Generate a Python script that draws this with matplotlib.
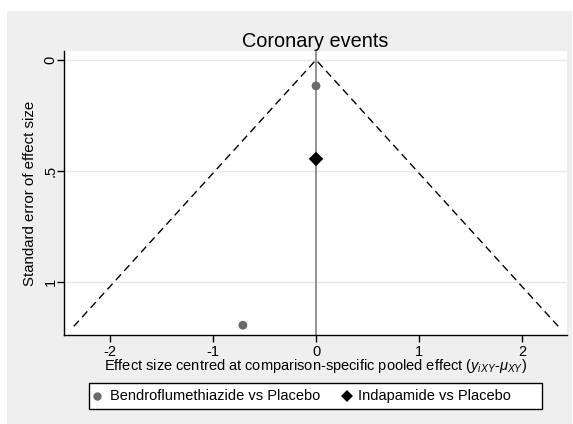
import matplotlib
matplotlib.use("Agg")
import matplotlib.pyplot as plt
from matplotlib.patches import Rectangle
from matplotlib.lines import Line2D
import numpy as np

plt.rcParams['font.family'] = ['Liberation Sans', 'DejaVu Sans']
plt.rcParams['mathtext.fontset'] = 'custom'
plt.rcParams['mathtext.rm'] = 'Liberation Sans'
plt.rcParams['mathtext.it'] = 'Liberation Sans:italic'

# Study-level centred effects and standard errors
comparisons = ["Bendroflumethiazide vs Placebo", "Indapamide vs Placebo"]
bendro_effect = [0.0, -0.71]
bendro_se = [0.117, 1.195]
indap_effect = [0.0]
indap_se = [0.446]

funnel_se_max = 1.2
z_crit = 1.96

title = "Coronary events"
x_ticks = [-2, -1, 0, 1, 2]
y_ticks = [0, 0.5, 1]
y_ticklabels = ["0", ".5", "1"]

W, H = 573, 424
fig = plt.figure(figsize=(W / 100, H / 100), dpi=100)
fig.patch.set_facecolor("white")
fig.patches.append(Rectangle((7 / W, 0), (572 - 7) / W, (H - 11) / H,
                             transform=fig.transFigure, facecolor="#efefef",
                             edgecolor="none", zorder=-10))

left, right, top, bottom = 64, 567, 51, 335
ax = fig.add_axes([left / W, 1 - bottom / H, (right - left) / W, (bottom - top) / H])
ax.set_facecolor("white")

ax.set_xlim(-2.447, 2.437)
ax.set_ylim(1.239, -0.04)

for yv in y_ticks:
    ax.axhline(yv, color="#e6e6e6", lw=1, zorder=0)

ax.axvline(0, color="#808080", lw=1.2, zorder=1)

se_line = np.array([funnel_se_max, 0.0, funnel_se_max])
x_line = np.array([-z_crit * funnel_se_max, 0.0, z_crit * funnel_se_max])
ax.plot(x_line, se_line, color="black", lw=1, ls=(0, (5.5, 3.5)), zorder=2)

ax.scatter(bendro_effect, bendro_se, s=40, marker="o", color="#6a6a6a",
           edgecolors="none", zorder=3)
ax.scatter(indap_effect, indap_se, s=55, marker="D", color="black",
           edgecolors="none", zorder=3)

ax.set_xticks(x_ticks)
ax.set_xticklabels([str(t) for t in x_ticks])
ax.set_yticks(y_ticks)
ax.set_yticklabels(y_ticklabels, rotation=90, va="center")
ax.tick_params(direction="out", length=5, width=1, labelsize=10.5)
ax.tick_params(axis="x", pad=2)
ax.tick_params(axis="y", pad=-0.5)
for s in ["top", "right"]:
    ax.spines[s].set_visible(False)
for s in ["left", "bottom"]:
    ax.spines[s].set_linewidth(1)

ax.set_title(title, fontsize=14.3, pad=3)
ax.set_ylabel("Standard error of effect size", fontsize=10.8, labelpad=5)
ax.set_xlabel(r"Effect size centred at comparison-specific pooled effect ($y_{iXY}$-$\mu_{XY}$)",
              fontsize=10.5, labelpad=-1)

# Legend box with two keyed entries
box_l, box_r, box_t, box_b = 89, 542, 383, 409
fig.patches.append(Rectangle((box_l / W, 1 - box_b / H), (box_r - box_l) / W,
                             (box_b - box_t) / H, transform=fig.transFigure,
                             facecolor="white", edgecolor="black", lw=1, zorder=5))
yc = 1 - 396 / H
key_styles = [dict(marker="o", color="#6a6a6a", markersize=6),
              dict(marker="D", color="black", markersize=6.5)]
key_x = [97, 347]
text_x = [110, 358]
for label, style, kx, tx in zip(comparisons, key_styles, key_x, text_x):
    fig.add_artist(Line2D([kx / W], [yc], ls="none", transform=fig.transFigure,
                          zorder=6, markeredgewidth=0, **style))
    fig.text(tx / W, yc, label, fontsize=10.5, va="center", ha="left", zorder=6)

fig.savefig("out.png", dpi=100, facecolor=fig.get_facecolor())
